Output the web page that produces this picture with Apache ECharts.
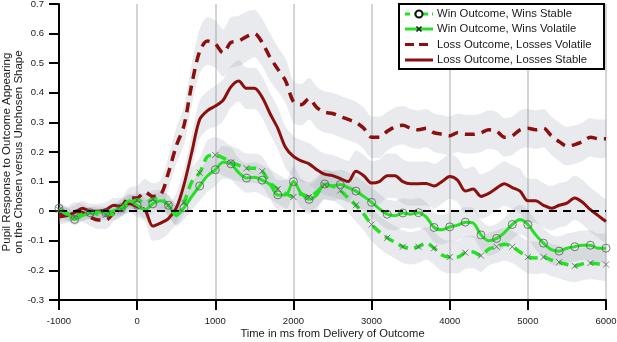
<!DOCTYPE html>
<html lang="en">
<head>
  <meta charset="UTF-8">
  <script src="https://cdn.jsdelivr.net/npm/echarts@6.0.0/dist/echarts.min.js"></script>
  <style>html, body { margin: 0; padding: 0; background: #fff; }</style>
</head>
<body>
  <div id="pupilChart" style="width:617px;height:342px;"></div>
  <script type="text/javascript">
    // time in ms, one sample every 100 ms
    var times = [-1000, -900, -800, -700, -600, -500, -400, -300, -200, -100,
      0, 100, 200, 300, 400, 500, 600, 700, 800, 900,
      1000, 1100, 1200, 1300, 1400, 1500, 1600, 1700, 1800, 1900,
      2000, 2100, 2200, 2300, 2400, 2500, 2600, 2700, 2800, 2900,
      3000, 3100, 3200, 3300, 3400, 3500, 3600, 3700, 3800, 3900,
      4000, 4100, 4200, 4300, 4400, 4500, 4600, 4700, 4800, 4900,
      5000, 5100, 5200, 5300, 5400, 5500, 5600, 5700, 5800, 5900, 6000];

    var winStable = [0.01, -0.005, -0.028, -0.015, -0.005, -0.003, -0.005, 0.002, 0.012, 0.035,
      0.02, 0.005, 0.025, 0.035, 0.02, -0.015, 0.012, 0.05, 0.085, 0.12,
      0.14, 0.165, 0.16, 0.13, 0.112, 0.115, 0.105, 0.09, 0.055, 0.055,
      0.1, 0.06, 0.04, 0.055, 0.092, 0.085, 0.09, 0.08, 0.068, 0.05,
      0.03, 0.008, -0.01, -0.015, -0.006, -0.01, -0.005, -0.02, -0.055, -0.063,
      -0.053, -0.047, -0.037, -0.04, -0.08, -0.1, -0.092, -0.072, -0.045, -0.028,
      -0.045, -0.08, -0.108, -0.13, -0.135, -0.125, -0.12, -0.115, -0.115, -0.125, -0.125];
    var winStableHw = [0.02, 0.02, 0.02, 0.02, 0.02, 0.02, 0.02, 0.02, 0.025, 0.025,
      0.025, 0.03, 0.03, 0.03, 0.035, 0.035, 0.04, 0.045, 0.05, 0.055,
      0.055, 0.055, 0.055, 0.05, 0.05, 0.05, 0.05, 0.05, 0.05, 0.05,
      0.05, 0.05, 0.05, 0.05, 0.05, 0.05, 0.05, 0.05, 0.05, 0.05,
      0.05, 0.05, 0.05, 0.05, 0.05, 0.05, 0.05, 0.05, 0.05, 0.05,
      0.05, 0.05, 0.05, 0.05, 0.05, 0.05, 0.05, 0.05, 0.05, 0.05,
      0.05, 0.05, 0.05, 0.05, 0.05, 0.05, 0.05, 0.05, 0.05, 0.05, 0.05];

    var winVolatile = [0.005, -0.01, -0.02, -0.01, -0.005, -0.01, -0.012, -0.01, 0.005, 0.025,
      0.038, 0.03, 0.04, 0.042, 0.02, -0.01, 0.03, 0.1, 0.13, 0.185,
      0.19, 0.18, 0.165, 0.155, 0.145, 0.145, 0.135, 0.095, 0.075, 0.06,
      0.048, 0.058, 0.048, 0.065, 0.088, 0.085, 0.07, 0.045, 0.02, -0.01,
      -0.045, -0.07, -0.09, -0.105, -0.12, -0.125, -0.12, -0.108, -0.125, -0.148,
      -0.155, -0.155, -0.14, -0.138, -0.15, -0.128, -0.12, -0.112, -0.12, -0.138,
      -0.155, -0.158, -0.155, -0.165, -0.172, -0.18, -0.185, -0.178, -0.175, -0.178, -0.18];
    var winVolatileHw = [0.02, 0.02, 0.02, 0.02, 0.02, 0.02, 0.02, 0.02, 0.025, 0.025,
      0.025, 0.03, 0.03, 0.03, 0.035, 0.035, 0.04, 0.045, 0.05, 0.055,
      0.06, 0.06, 0.055, 0.055, 0.05, 0.05, 0.05, 0.05, 0.05, 0.05,
      0.05, 0.05, 0.05, 0.05, 0.05, 0.05, 0.05, 0.05, 0.055, 0.055,
      0.055, 0.055, 0.055, 0.055, 0.055, 0.055, 0.055, 0.055, 0.055, 0.055,
      0.055, 0.055, 0.055, 0.055, 0.055, 0.055, 0.055, 0.055, 0.055, 0.055,
      0.055, 0.055, 0.055, 0.055, 0.055, 0.055, 0.055, 0.055, 0.055, 0.055, 0.055];

    var lossVolatile = [-0.01, -0.01, 0.0, -0.005, -0.02, -0.03, -0.03, -0.005, 0.015, 0.045,
      0.045, 0.065, 0.05, 0.055, 0.13, 0.22, 0.29, 0.43, 0.54, 0.575,
      0.565, 0.535, 0.57, 0.575, 0.59, 0.6, 0.57, 0.52, 0.48, 0.44,
      0.37, 0.36, 0.38, 0.35, 0.335, 0.33, 0.32, 0.31, 0.3, 0.28,
      0.25, 0.25, 0.27, 0.285, 0.29, 0.28, 0.275, 0.28, 0.265, 0.26,
      0.255, 0.265, 0.26, 0.26, 0.265, 0.275, 0.27, 0.25, 0.255, 0.275,
      0.28, 0.275, 0.28, 0.255, 0.235, 0.22, 0.225, 0.235, 0.25, 0.245, 0.245];
    var lossVolatileHw = [0.025, 0.025, 0.03, 0.03, 0.03, 0.03, 0.03, 0.03, 0.03, 0.035,
      0.04, 0.045, 0.045, 0.05, 0.055, 0.06, 0.065, 0.07, 0.075, 0.08,
      0.08, 0.08, 0.085, 0.085, 0.085, 0.08, 0.08, 0.08, 0.075, 0.075,
      0.07, 0.07, 0.07, 0.07, 0.07, 0.07, 0.07, 0.07, 0.07, 0.07,
      0.07, 0.07, 0.065, 0.065, 0.065, 0.065, 0.065, 0.065, 0.065, 0.065,
      0.065, 0.065, 0.065, 0.065, 0.065, 0.065, 0.065, 0.065, 0.065, 0.065,
      0.065, 0.065, 0.065, 0.065, 0.065, 0.065, 0.065, 0.065, 0.065, 0.065, 0.065];

    var lossStable = [-0.02, -0.015, -0.005, 0.01, 0.0, 0.0, 0.005, 0.02, 0.015, 0.025,
      0.015, 0.005, -0.05, -0.04, -0.025, 0.01, 0.09, 0.2, 0.31, 0.34,
      0.355, 0.375, 0.42, 0.44, 0.415, 0.415, 0.385, 0.33, 0.28, 0.215,
      0.185, 0.17, 0.16, 0.14, 0.125, 0.12, 0.11, 0.1, 0.135, 0.12,
      0.095, 0.1, 0.12, 0.12, 0.1, 0.093, 0.093, 0.094, 0.085, 0.1,
      0.117, 0.105, 0.068, 0.075, 0.05, 0.06, 0.078, 0.093, 0.08, 0.068,
      0.035, 0.035, 0.02, 0.01, 0.02, 0.027, 0.045, 0.03, 0.005, -0.015, -0.035];
    var lossStableHw = [0.025, 0.025, 0.025, 0.025, 0.025, 0.025, 0.025, 0.025, 0.03, 0.03,
      0.035, 0.04, 0.05, 0.055, 0.05, 0.05, 0.055, 0.06, 0.065, 0.065,
      0.07, 0.07, 0.07, 0.07, 0.07, 0.07, 0.07, 0.07, 0.07, 0.07,
      0.07, 0.07, 0.07, 0.07, 0.07, 0.07, 0.07, 0.07, 0.07, 0.07,
      0.075, 0.075, 0.075, 0.075, 0.075, 0.075, 0.075, 0.075, 0.075, 0.075,
      0.075, 0.075, 0.075, 0.075, 0.075, 0.075, 0.075, 0.075, 0.075, 0.075,
      0.075, 0.075, 0.075, 0.075, 0.075, 0.075, 0.075, 0.075, 0.075, 0.075, 0.075];

    var legendNames = ['Win Outcome, Wins Stable', 'Win Outcome, Wins Volatile',
      'Loss Outcome, Losses Volatile', 'Loss Outcome, Losses Stable'];

    var green = '#26e026';
    var darkRed = '#8a0f0f';
    var bandColor = 'rgba(160,166,178,0.24)';
    var fontFamily = 'Liberation Sans, Arial, sans-serif';

    function isThousand(index, value) {
      return Number(value) % 1000 === 0;
    }

    function bandSeries(key, mid, hw) {
      return [
        {
          name: key + '-lo', type: 'line', stack: key, stackStrategy: 'all',
          data: mid.map(function (v, i) { return +(v - hw[i]).toFixed(4); }),
          symbol: 'none', smooth: 0.3, silent: true, z: 1,
          lineStyle: { opacity: 0 }
        },
        {
          name: key + '-hi', type: 'line', stack: key, stackStrategy: 'all',
          data: hw.map(function (h) { return +(2 * h).toFixed(4); }),
          symbol: 'none', smooth: 0.3, silent: true, z: 1,
          lineStyle: { opacity: 0 },
          areaStyle: { color: bandColor, opacity: 1 }
        }
      ];
    }

    function everyOther(arr) {
      return arr.map(function (v, i) { return i % 2 === 0 ? v : '-'; });
    }

    function legendGraphic() {
      var x0 = 399, y0 = 4, rows = [14, 29, 44.5, 60];
      var els = [{
        type: 'rect', shape: { x: x0, y: y0, width: 205, height: 65 },
        style: { fill: '#fff', stroke: '#000', lineWidth: 2 }, z: 100
      }];
      var styles = [
        { color: green, dash: [5, 4] },
        { color: green, dash: null },
        { color: darkRed, dash: [9, 5] },
        { color: darkRed, dash: null }
      ];
      rows.forEach(function (y, i) {
        els.push({
          type: 'line', shape: { x1: 405, y1: y, x2: 433, y2: y },
          style: { stroke: styles[i].color, lineWidth: 3, lineDash: styles[i].dash }, z: 101
        });
        els.push({
          type: 'text', x: 437, y: y,
          style: { text: legendNames[i], fill: '#1a1a1a', font: '11.3px ' + fontFamily, textVerticalAlign: 'middle' },
          z: 101
        });
      });
      els.push({
        type: 'circle', shape: { cx: 419, cy: rows[0], r: 3.5 },
        style: { fill: '#fff', stroke: '#111', lineWidth: 2 }, z: 102
      });
      els.push({
        type: 'polyline', shape: { points: [[416.5, rows[1] - 2.5], [421.5, rows[1] + 2.5]] },
        style: { stroke: '#111', lineWidth: 1.5 }, z: 102
      });
      els.push({
        type: 'polyline', shape: { points: [[421.5, rows[1] - 2.5], [416.5, rows[1] + 2.5]] },
        style: { stroke: '#111', lineWidth: 1.5 }, z: 102
      });
      return els;
    }

    function createPupilChart() {
      var chart = echarts.init(document.getElementById('pupilChart'));
      var axisText = { color: '#1a1a1a', fontSize: 9.5, fontFamily: fontFamily };

      var series = []
        .concat(bandSeries('bLossVol', lossVolatile, lossVolatileHw))
        .concat(bandSeries('bLossStb', lossStable, lossStableHw))
        .concat(bandSeries('bWinStb', winStable, winStableHw))
        .concat(bandSeries('bWinVol', winVolatile, winVolatileHw))
        .concat([
          {
            name: legendNames[3], type: 'line', data: lossStable, symbol: 'none', smooth: 0.3, z: 3,
            lineStyle: { color: darkRed, width: 3 },
            markLine: {
              silent: true, symbol: ['none', 'none'], label: { show: false },
              lineStyle: { color: '#000', type: [8, 6], width: 2 },
              data: [{ yAxis: 0 }]
            }
          },
          {
            name: legendNames[2], type: 'line', data: lossVolatile, symbol: 'none', smooth: 0.3, z: 3,
            lineStyle: { color: darkRed, width: 3.5, type: [10, 7] }
          },
          {
            name: legendNames[1], type: 'line', data: winVolatile, symbol: 'none', smooth: 0.3, z: 4,
            lineStyle: { color: green, width: 3.5, type: [10, 6] }
          },
          {
            name: legendNames[0], type: 'line', data: winStable, symbol: 'none', smooth: 0.3, z: 4,
            lineStyle: { color: green, width: 3 }
          },
          {
            name: 'stableMarks', type: 'scatter', data: everyOther(winStable), z: 5, silent: true,
            symbol: 'circle', symbolSize: 8,
            itemStyle: { color: 'rgba(0,0,0,0)', borderColor: '#5a5a5a', borderWidth: 1 }
          },
          {
            name: 'volatileMarks', type: 'scatter', data: everyOther(winVolatile), z: 5, silent: true,
            symbol: 'path://M0,0L10,10M10,0L0,10', symbolSize: 6,
            itemStyle: { color: 'none', borderColor: '#5a5a5a', borderWidth: 1 }
          }
        ]);

      var option = {
        animation: false,
        backgroundColor: '#fff',
        grid: { left: 59, right: 11, top: 4, bottom: 42, outerBoundsMode: 'none' },
        xAxis: {
          type: 'category', data: times, boundaryGap: false,
          name: 'Time in ms from Delivery of Outcome', nameLocation: 'middle', nameGap: 28,
          nameMoveOverlap: false,
          nameTextStyle: { color: '#1a1a1a', fontSize: 11.2, fontFamily: fontFamily },
          axisLine: { onZero: false, lineStyle: { color: '#000', width: 2 } },
          axisTick: { show: true, interval: isThousand, length: 10, lineStyle: { color: '#000', width: 2 } },
          axisLabel: Object.assign({ interval: isThousand, margin: 16 }, axisText),
          splitLine: { show: true, interval: isThousand, lineStyle: { color: '#d4d4d4', width: 2 } }
        },
        yAxis: {
          type: 'value', min: -0.3, max: 0.7, interval: 0.1,
          name: 'Pupil Response to Outcome Appearing\non the Chosen versus Unchosen Shape',
          nameLocation: 'middle', nameGap: 34, nameRotate: 90, nameMoveOverlap: false,
          nameTextStyle: { color: '#1a1a1a', fontSize: 11.5, fontFamily: fontFamily, lineHeight: 12 },
          axisLine: { show: true, onZero: false, lineStyle: { color: '#000', width: 2 } },
          axisTick: { show: true, length: 10, lineStyle: { color: '#000', width: 2 } },
          axisLabel: Object.assign({
            margin: 15,
            formatter: function (v) { return String(Math.round(v * 10) / 10); }
          }, axisText),
          splitLine: { show: false }
        },
        graphic: legendGraphic(),
        series: series
      };

      chart.setOption(option);
    }
    createPupilChart();
  </script>
</body>
</html>
